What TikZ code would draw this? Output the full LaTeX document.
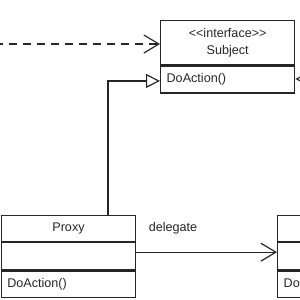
\documentclass[tikz,border=0pt]{standalone}
\usepackage{fontspec}
\setsansfont{Liberation Sans}
\usetikzlibrary{arrows.meta,positioning}
\begin{document}
\begin{tikzpicture}[x=1pt,y=-1pt,
    umlbox/.style={draw=black!85,line width=1.3pt,anchor=north west,inner sep=0pt,
        font=\sffamily\fontsize{12.6}{17}\selectfont,text=black!85},
    umlops/.style={umlbox,text width=#1-12pt,align=left},
    conn/.style={draw=black!85,line width=1.1pt},
    barb/.style={conn,-{Straight Barb[length=15pt,width=18pt,line width=1.2pt]}},
    realize/.style={conn,-{Triangle[open,length=14pt,width=14pt,line width=1.2pt,fill=white]}}]
    \useasboundingbox (0,0) rectangle (300,300);
    \clip (0,0) rectangle (300,300);
    % interface
    \node[umlbox,minimum width=134pt,minimum height=44pt,align=center] (subjhead) at (160,20)
        {<{}<interface>{}>\\Subject};
    \node[umlops=134pt,minimum width=134pt,minimum height=27pt] (subjops) at (subjhead.south west) {DoAction()};
    % proxy
    \node[umlbox,minimum width=134.5pt,minimum height=25.7pt] (proxyhead) at (0.6,215) {Proxy};
    \node[umlbox,minimum width=134.5pt,minimum height=27pt] (proxyattr) at (proxyhead.south west) {};
    \node[umlops=134.5pt,minimum width=134.5pt,minimum height=26.3pt] (proxyops) at (proxyattr.south west) {DoAction()};
    % real subject
    \node[umlbox,minimum width=134pt,minimum height=25.7pt] (realhead) at (277,215) {};
    \node[umlbox,minimum width=134pt,minimum height=27pt] (realattr) at (realhead.south west) {};
    \node[umlops=134pt,minimum width=134pt,minimum height=26.3pt] (realops) at (realattr.south west) {DoAction()};
    % connectors
    \coordinate (client) at (-5,44);
    \coordinate (realgen) at (330,79);
    \draw[barb,dash pattern=on 8pt off 6pt] (client) -- (client -| subjhead.west);
    \draw[realize] ([xshift=39.5pt]proxyhead.north) |- ([yshift=-1.5pt]subjops.west);
    \draw[realize] (realgen) -- (realgen -| subjops.east);
    \draw[barb] ([yshift=4pt]proxyattr.east) -- ([yshift=4pt]realattr.west)
        node[pos=0.26,above=17pt,inner sep=0pt,font=\sffamily\fontsize{12.6}{17}\selectfont,text=black!85] (dlg) {delegate};
\end{tikzpicture}
\end{document}
